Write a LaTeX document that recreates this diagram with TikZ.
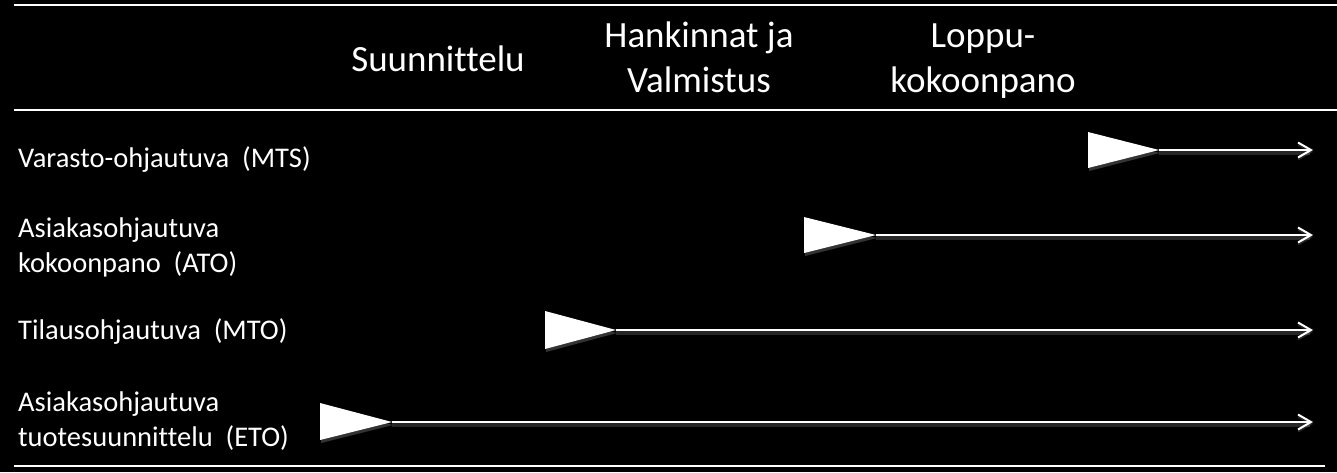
\documentclass[tikz,border=0pt]{standalone}
\usepackage{fontspec}
\setmainfont{Carlito}[Ligatures=NoCommon]
\newfontfamily\rowfont{Carlito}[Ligatures=NoCommon, WordSpace=2]
\usetikzlibrary{arrows.meta}

\tikzset{
  phase/.style={anchor=base, text=white, inner sep=0pt, align=center,
    font=\fontsize{37}{45}\selectfont},
  kind/.style={anchor=base west, text=white, inner sep=0pt, align=left,
    font=\rowfont\fontsize{28.5}{35}\selectfont},
  rule/.style={white, line width=2.5pt},
  glow/.style={preaction={draw=white, draw opacity=0.15, line width=6pt,
    transform canvas={yshift=-2pt}}},
  flow/.style={white, line width=2pt, glow,
    -{Straight Barb[length=13pt,width=15pt,line width=2pt]}},
  decouple/.style={fill=white, preaction={fill=white, fill opacity=0.2,
    transform canvas={xshift=1pt,yshift=-3pt}}},
}

\begin{document}
\begin{tikzpicture}[x=1pt,y=-1pt]
% Background
\fill[black] (0,0) rectangle (1337,472);
\useasboundingbox (0,0) rectangle (1337,472);
% Rules
\draw [rule] (14,5) -- (1337,5);
\draw [rule] (14,110) -- (1337,110);
\draw [rule] (14,466) -- (1325,466);
% Phases (base = last line)
\node [phase] (design) at (438,71) {Suunnittelu};
\node [phase] (make) at (699,92) {Hankinnat ja\\Valmistus};
\node [phase] (assembly) at (983,92) {Loppu-\\kokoonpano};
% Strategies
\node [kind] (mts) at (18,167) {Varasto-ohjautuva (MTS)};
\node [kind] (ato) at (18,272) {Asiakasohjautuva\\kokoonpano (ATO)};
\node [kind] (mto) at (18,339) {Tilausohjautuva (MTO)};
\node [kind] (eto) at (18,446) {Asiakasohjautuva\\tuotesuunnittelu (ETO)};
% Order points
\fill [decouple] (1088,132) -- (1159,150) coordinate (mtsstart) -- (1088,168) -- cycle;
\fill [decouple] (804,217) -- (876,235) coordinate (atostart) -- (804,253) -- cycle;
\fill [decouple] (545,311) -- (616,330) coordinate (mtostart) -- (545,349) -- cycle;
\fill [decouple] (320,403) -- (392,422) coordinate (etostart) -- (320,440) -- cycle;
% Ends
\coordinate (mtsend) at (1313,150);
\coordinate (atoend) at (1313,235);
\coordinate (mtoend) at (1313,330);
\coordinate (etoend) at (1313,422);
% Flows
\draw [flow] (mtsstart) -- (mtsend);
\draw [flow] (atostart) -- (atoend);
\draw [flow] (mtostart) -- (mtoend);
\draw [flow] (etostart) -- (etoend);
\end{tikzpicture}
\end{document}
